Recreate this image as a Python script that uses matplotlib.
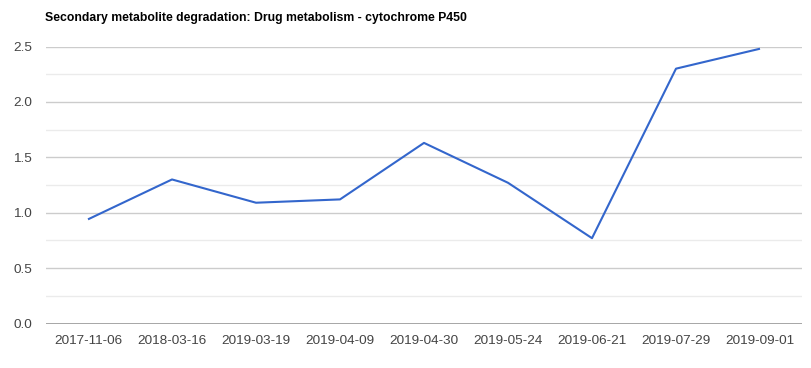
import matplotlib
matplotlib.use("Agg")
import matplotlib.pyplot as plt
from matplotlib.ticker import MultipleLocator

dates = ["2017-11-06", "2018-03-16", "2019-03-19", "2019-04-09", "2019-04-30",
         "2019-05-24", "2019-06-21", "2019-07-29", "2019-09-01"]
values = [0.94, 1.30, 1.09, 1.12, 1.63, 1.27, 0.77, 2.30, 2.48]
title = "Secondary metabolite degradation: Drug metabolism - cytochrome P450"

plt.rcParams['font.family'] = ['Liberation Sans', 'DejaVu Sans']

W, H = 812, 368
fig = plt.figure(figsize=(W / 100, H / 100), dpi=100)
left, right, top, bottom = 46, 802, 46.5, 323.5
ax = fig.add_axes([left / W, 1 - bottom / H, (right - left) / W, (bottom - top) / H])

x = list(range(len(dates)))
ax.plot(x, values, color="#3366cc", linewidth=1.5, zorder=3, solid_capstyle="butt")

ax.set_xlim(-0.5, len(dates) - 0.5)
ax.set_ylim(0, 2.5)
ax.yaxis.set_minor_locator(MultipleLocator(0.25))
ax.set_yticks([0, 0.5, 1.0, 1.5, 2.0, 2.5])
ax.set_yticklabels(["0.0", "0.5", "1.0", "1.5", "2.0", "2.5"])
ax.set_xticks(x)
ax.set_xticklabels(dates)

ax.grid(True, which="major", axis="y", color="#cccccc", linewidth=1.0, zorder=0)
ax.grid(True, which="minor", axis="y", color="#ebebeb", linewidth=1.0, zorder=0)
ax.axhline(0, color="#999999", linewidth=1.2, zorder=2)

for s in ax.spines.values():
    s.set_visible(False)
ax.tick_params(axis="both", which="both", length=0, labelsize=9.7, colors="#444444")
ax.tick_params(axis="y", pad=10)
ax.tick_params(axis="x", pad=8)

fig.text(45 / W, 1 - 18 / H, title, fontsize=8.8, fontweight="bold", color="#000000",
         ha="left", va="center")

fig.savefig("out.png", dpi=100, facecolor="white")
